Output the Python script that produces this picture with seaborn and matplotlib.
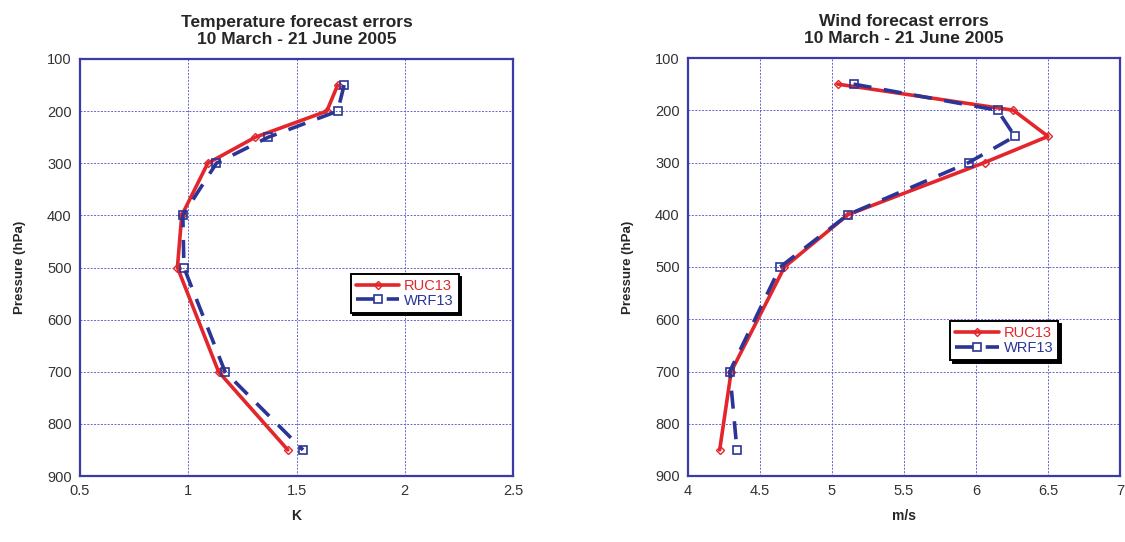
import pandas as pd
import seaborn as sns
import matplotlib.pyplot as plt

# pressure levels (hPa)
levels = [150, 200, 250, 300, 400, 500, 700, 850]

# temperature errors (K)
temp_ruc = [1.69, 1.64, 1.31, 1.09, 0.97, 0.95, 1.14, 1.46]
temp_wrf = [1.72, 1.69, 1.37, 1.13, 0.975, 0.98, 1.17, 1.53]

# wind errors (m/s)
wind_ruc = [5.04, 6.26, 6.50, 6.06, 5.11, 4.67, 4.30, 4.22]
wind_wrf = [5.15, 6.15, 6.27, 5.95, 5.11, 4.64, 4.29, 4.34]

titles = ["Temperature forecast errors\n10 March - 21 June 2005",
          "Wind forecast errors\n10 March - 21 June 2005"]
xlabels = ["K", "m/s"]
xticks = [[0.5, 1, 1.5, 2, 2.5], [4, 4.5, 5, 5.5, 6, 6.5, 7]]
xtick_labels = [["0.5", "1", "1.5", "2", "2.5"],
                ["4", "4.5", "5", "5.5", "6", "6.5", "7"]]
yticks = [100, 200, 300, 400, 500, 600, 700, 800, 900]

red = "#e3262b"
blue = "#2b3595"
frame = "#3a3aa8"

sns.set_style("white")
plt.rcParams['font.family'] = ['Liberation Sans', 'DejaVu Sans']

fig = plt.figure(figsize=(11.25, 5.42), dpi=100)
ax1 = fig.add_axes([80 / 1125, 66 / 542, 433 / 1125, 417 / 542])
ax2 = fig.add_axes([688 / 1125, 66 / 542, 432 / 1125, 418 / 542])

data = [(temp_ruc, temp_wrf), (wind_ruc, wind_wrf)]
leg_pos = [(0.625, 0.485), (0.607, 0.37)]

for i, ax in enumerate([ax1, ax2]):
    ruc, wrf = data[i]
    df = pd.DataFrame({"Pressure": levels, "RUC13": ruc, "WRF13": wrf})
    sns.lineplot(data=df, x="RUC13", y="Pressure", sort=False, estimator=None,
                 ax=ax, color=red, linewidth=2.6, marker="D", markersize=4.5,
                 markerfacecolor="none", markeredgecolor=red, markeredgewidth=1.0,
                 label="RUC13")
    sns.lineplot(data=df, x="WRF13", y="Pressure", sort=False, estimator=None,
                 ax=ax, color=blue, linewidth=2.6, marker="s", markersize=6,
                 markerfacecolor="none", markeredgecolor=blue, markeredgewidth=1.2,
                 dashes=(5, 3.5), label="WRF13")
    ax.set_xlim(xticks[i][0], xticks[i][-1])
    ax.set_ylim(900, 100)
    ax.set_xticks(xticks[i])
    ax.set_xticklabels(xtick_labels[i])
    ax.set_yticks(yticks)
    ax.grid(True, color="#6464cc", linestyle=(0, (2, 1.5)), linewidth=0.7)
    for s in ax.spines.values():
        s.set_color(frame)
        s.set_linewidth(1.6)
    ax.tick_params(axis="both", labelsize=10.5, colors="#333333", length=0, pad=6)
    ax.set_title(titles[i], fontsize=12.5, fontweight="bold", pad=11, linespacing=1.15)
    ax.set_xlabel(xlabels[i], fontsize=10, fontweight="bold", labelpad=8)
    ax.set_ylabel("Pressure (hPa)", fontsize=9.5, fontweight="bold", labelpad=15)
    leg = ax.legend(loc="upper left", bbox_to_anchor=leg_pos[i], frameon=True,
                    fancybox=False, shadow={"color": "black", "alpha": 1.0},
                    edgecolor="black", labelcolor="linecolor", fontsize=10.5,
                    handlelength=3.0, handletextpad=0.3, borderpad=0.35,
                    labelspacing=0.05, borderaxespad=0)
    leg.get_frame().set_linewidth(1.4)

fig.savefig("out.png", dpi=100)
